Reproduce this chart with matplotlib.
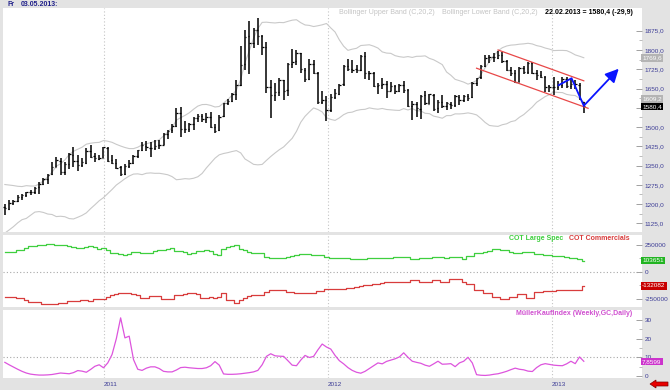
import numpy as np
import pandas as pd
import matplotlib
matplotlib.use("Agg")
import matplotlib.pyplot as plt
import matplotlib.dates as mdates
import matplotlib.transforms as mtransforms
from matplotlib.patches import Polygon

plt.rcParams['font.family'] = ['Liberation Sans', 'DejaVu Sans']

# weekly gold bars, 23.07.2010 .. 22.02.2013
weeks = pd.date_range('2010-07-23', '2013-02-22', freq='W-FRI')

opens = [1190,1182,1204,1214,1226,1237,1246,1249,1265,1279,
         1298,1316,1346,1369,1326,1356,1393,1367,1354,1362,
         1405,1386,1377,1381,1420,1370,1360,1343,1319,1347,
         1361,1387,1410,1428,1420,1417,1429,1430,1473,1487,
         1505,1555,1492,1493,1511,1535,1543,1531,1540,1501,
         1487,1542,1595,1602,1629,1664,1744,1853,1827,1877,
         1855,1810,1656,1625,1636,1682,1643,1745,1756,1787,
         1724,1687,1745,1711,1598,1605,1567,1618,1630,1666,
         1738,1726,1725,1722,1777,1709,1711,1660,1663,1667,
         1641,1659,1641,1663,1646,1581,1590,1572,1623,1591,
         1626,1573,1597,1581,1591,1585,1618,1606,1619,1616,
         1670,1693,1739,1771,1772,1770,1781,1757,1723,1712,
         1677,1730,1715,1750,1711,1704,1695,1658,1657,1655,
         1663,1688,1659,1668,1665,1596]
highs = [1200,1216,1216,1235,1241,1248,1254,1267,1286,1300,
         1319,1364,1384,1380,1364,1398,1424,1390,1378,1420,
         1432,1400,1393,1424,1424,1392,1376,1350,1356,1370,
         1392,1412,1440,1445,1440,1448,1448,1478,1490,1510,
         1575,1577,1525,1515,1540,1552,1550,1553,1560,1512,
         1545,1595,1610,1632,1682,1817,1877,1912,1886,1923,
         1860,1830,1682,1672,1690,1685,1750,1805,1800,1790,
         1730,1764,1762,1715,1640,1620,1628,1648,1668,1742,
         1765,1760,1740,1782,1792,1720,1714,1672,1690,1680,
         1675,1662,1668,1680,1650,1600,1596,1626,1640,1630,
         1628,1605,1625,1598,1596,1625,1625,1625,1630,1676,
         1692,1740,1780,1779,1788,1796,1792,1760,1732,1722,
         1735,1738,1755,1754,1722,1720,1698,1664,1693,1680,
         1695,1696,1686,1684,1670,1597]
lows = [1157,1177,1197,1209,1216,1229,1235,1241,1241,1274,
        1280,1312,1345,1312,1312,1338,1345,1330,1345,1358,
        1380,1365,1370,1378,1364,1355,1338,1308,1315,1340,
        1355,1378,1405,1405,1383,1410,1416,1430,1453,1475,
        1500,1462,1478,1480,1490,1520,1518,1517,1497,1478,
        1485,1540,1585,1598,1607,1660,1722,1705,1808,1820,
        1780,1632,1535,1600,1620,1605,1620,1730,1740,1710,
        1676,1682,1705,1590,1590,1523,1560,1608,1625,1660,
        1720,1712,1712,1718,1688,1683,1655,1627,1649,1612,
        1640,1627,1635,1633,1578,1527,1540,1532,1585,1588,
        1562,1555,1576,1565,1570,1578,1586,1597,1600,1612,
        1660,1688,1732,1750,1755,1763,1750,1718,1700,1672,
        1676,1708,1706,1705,1685,1689,1636,1638,1626,1645,
        1652,1652,1650,1650,1604,1554]
closes = [1183,1205,1213,1228,1236,1246,1247,1264,1280,1296,
          1315,1345,1370,1325,1357,1394,1368,1352,1363,1406,
          1385,1378,1380,1421,1369,1361,1342,1318,1348,1360,
          1388,1409,1429,1421,1418,1428,1429,1474,1486,1504,
          1556,1491,1492,1510,1536,1542,1530,1539,1500,1486,
          1541,1594,1601,1628,1663,1743,1852,1828,1876,1856,
          1811,1657,1624,1635,1683,1642,1746,1755,1788,1725,
          1686,1746,1712,1597,1606,1566,1617,1631,1665,1739,
          1725,1724,1723,1776,1710,1712,1659,1662,1668,1640,
          1660,1642,1664,1645,1580,1591,1573,1622,1592,1627,
          1572,1598,1580,1592,1584,1619,1605,1620,1615,1671,
          1692,1738,1770,1773,1771,1780,1758,1724,1711,1676,
          1731,1714,1751,1712,1703,1696,1657,1656,1656,1662,
          1687,1658,1667,1666,1610.3,1580.4]
# closes before the first visible bar (needed for the 20 week bands)
history_closes = [1102,1107,1107,1125,1161,1137,1142,1180,1209,1228,
                  1177,1213,1218,1228,1256,1256,1208,1210,1189]

# COT net positions, thousands of contracts
cot_large_spec = [185,185,185,201,201,220,238,240,247,247,
                  255,259,250,247,247,238,228,222,222,230,
                  238,225,210,216,205,175,170,160,155,160,
                  180,185,175,170,172,195,201,205,210,216,
                  196,196,180,165,170,190,196,198,190,165,
                  158,210,232,235,247,207,205,185,175,175,
                  172,140,127,127,127,130,139,142,155,160,
                  160,160,158,155,152,132,130,130,130,128,
                  126,122,120,118,122,125,128,130,128,126,
                  130,135,139,139,139,115,115,127,127,127,
                  139,139,133,127,135,139,139,115,143,150,
                  170,172,180,196,212,212,205,201,185,170,
                  172,185,185,178,165,165,158,155,150,143,
                  143,135,127,127,120,103.651]
cot_commercials = [-231,-231,-231,-246,-246,-260,-278,-278,-285,-299,
                   -299,-299,-295,-287,-287,-275,-268,-268,-265,-262,
                   -268,-255,-253,-250,-230,-216,-205,-194,-194,-200,
                   -210,-216,-246,-240,-225,-228,-225,-255,-255,-250,
                   -220,-216,-210,-200,-200,-210,-240,-240,-238,-246,
                   -235,-200,-262,-262,-287,-260,-246,-225,-216,-216,
                   -216,-185,-170,-170,-170,-170,-185,-185,-200,-200,
                   -200,-200,-200,-176,-176,-163,-163,-163,-163,-160,
                   -155,-150,-140,-130,-125,-120,-115,-110,-105,-100,
                   -98,-95,-93,-93,-93,-77,-77,-93,-93,-93,
                   -77,-77,-93,-93,-71,-71,-71,-93,-117,-117,
                   -170,-170,-200,-200,-231,-231,-255,-255,-231,-231,
                   -210,-210,-246,-246,-185,-185,-183,-183,-183,-170,
                   -170,-170,-168,-168,-168,-132.082]

mueller = [7.3,6.0,4.8,3.6,2.5,1.6,1.0,0.7,0.5,0.5,
           0.6,0.8,1.2,1.6,1.4,1.2,1.8,2.9,2.6,2.0,
           3.5,5.2,6.0,4.4,7.0,11.5,20.0,31.1,20.4,21.3,
           8.8,3.6,3.0,4.2,4.9,4.9,4.0,2.5,2.2,2.2,
           3.2,4.5,4.7,4.4,4.2,4.0,4.0,4.4,5.5,7.7,
           5.8,1.1,0.9,0.9,1.0,1.2,1.5,1.8,2.2,3.0,
           6.0,10.5,11.9,10.8,10.6,10.5,8.2,5.8,5.5,8.5,
           11.0,9.9,10.5,14.0,17.1,15.5,14.4,11.0,8.2,6.5,
           4.5,3.0,2.0,1.5,2.5,4.0,5.5,7.0,6.5,7.8,
           8.5,9.2,10.2,12.4,10.0,7.9,7.3,6.8,5.8,5.2,
           6.5,7.9,6.3,6.4,6.6,5.0,7.0,7.9,10.0,7.0,
           0.7,0.4,0.3,0.5,0.9,1.2,1.8,2.5,3.4,4.2,
           3.6,3.3,2.6,2.4,4.5,6.0,6.6,6.2,5.8,5.6,
           5.5,6.5,7.9,6.6,10.2,7.8599]

# drawn trend channel and forecast path
channel_upper_dates = ['2012-10-05', '2013-02-22']
channel_upper_prices = [1800, 1680]
channel_lower_dates = ['2012-08-31', '2013-03-01']
channel_lower_prices = [1729, 1573]
path_dates = ['2013-01-12', '2013-02-02', '2013-02-22', '2013-04-20']
path_prices = [1663, 1690, 1583, 1727]

year_dates = ['2011-01-01', '2012-01-01', '2013-01-01']
year_labels = ['2011', '2012', '2013']
price_ticks = [1125, 1200, 1275, 1350, 1425, 1500, 1575, 1650, 1725, 1800, 1875]
hidden_price_labels = [1575]   # covered by the last-price tag
cot_ticks = [-250000, 0, 250000]
mueller_ticks = [0, 10, 20, 30]
band_tags = [1769.6, 1609.2]

W, H = 670, 390
BG = '#e3e3e3'
NAVY = '#3c3c96'
LAB = 4.6


def px_box(x0, y0, x1, y1):
    return [x0 / W, 1 - y1 / H, (x1 - x0) / W, (y1 - y0) / H]


def px(x, y):
    return x / W, 1 - y / H


fig = plt.figure(figsize=(W / 100, H / 100), dpi=100, facecolor=BG)
ax = fig.add_axes(px_box(3, 8, 642, 232))
ax2 = fig.add_axes(px_box(3, 235, 642, 307), sharex=ax)
ax3 = fig.add_axes(px_box(3, 310, 642, 378), sharex=ax)

x = mdates.date2num(weeks)
years = mdates.date2num(pd.to_datetime(year_dates))

for a in (ax, ax2, ax3):
    a.set_facecolor('white')
    for s in a.spines.values():
        s.set_visible(False)
    for yd in years:
        a.axvline(yd, color='#c4c4c4', lw=0.8, ls=(0, (1, 2)), zorder=0)
    a.yaxis.tick_right()
    a.tick_params(axis='y', direction='in', length=4, width=0.7, color='#a0a0a0',
                  labelsize=LAB, labelcolor=NAVY, pad=2)
    a.tick_params(axis='y', which='minor', direction='in', length=2, width=0.6, color='#b0b0b0')
    a.tick_params(axis='x', length=0)

ax.set_xlim(mdates.date2num(pd.Timestamp('2010-07-20')), mdates.date2num(pd.Timestamp('2013-05-28')))

# --- price panel
hist = pd.Series(history_closes + closes, dtype=float)
mid = hist.rolling(20).mean()
sd = hist.rolling(20).std(ddof=0)
upper = (mid + 2 * sd).iloc[-len(closes):].values
lower = (mid - 2 * sd).iloc[-len(closes):].values
ax.plot(x, upper, color='#c9c9c9', lw=0.8, zorder=1)
ax.plot(x, lower, color='#c9c9c9', lw=0.8, zorder=1)

ax.vlines(x, lows, highs, color='black', lw=1.1, zorder=3)
ax.hlines(opens, x - 2.3, x, color='black', lw=0.9, zorder=3)
ax.hlines(closes, x, x + 2.3, color='black', lw=0.9, zorder=3)

ax.plot(mdates.date2num(pd.to_datetime(channel_upper_dates)), channel_upper_prices,
        color='#e84848', lw=0.9, zorder=4)
ax.plot(mdates.date2num(pd.to_datetime(channel_lower_dates)), channel_lower_prices,
        color='#e84848', lw=0.9, zorder=4)

pdx = mdates.date2num(pd.to_datetime(path_dates))
ax.plot(pdx[:3], path_prices[:3], color='#0a14ff', lw=1.3, zorder=5)
ax.annotate('', xy=(pdx[3], path_prices[3]), xytext=(pdx[2], path_prices[2]),
            arrowprops=dict(arrowstyle='-|>,head_length=0.8,head_width=0.4',
                            color='#0a14ff', lw=1.3, shrinkA=0, shrinkB=0), zorder=5)

ax.set_ylim(1091.5, 1963.4)
ax.set_yticks(price_ticks)
ax.set_yticks([v + 37.5 for v in price_ticks[:-1]], minor=True)
ax.set_yticklabels(['' if v in hidden_price_labels else f"{v:.1f}".replace('.', ',')
                    for v in price_ticks])
ax.tick_params(axis='x', labelbottom=False)

ytr = mtransforms.blended_transform_factory(ax.transAxes, ax.transData)
for v in band_tags:
    ax.text(1.0, v, f"{v:.1f}".replace('.', ','), transform=ytr, ha='left', va='center',
            fontsize=LAB, color='white', clip_on=False, zorder=6,
            bbox=dict(boxstyle='square,pad=0.2', fc='#b4b4b4', ec='none'))
last = closes[-1]
ax.text(1.0, last, f"{last:.1f}".replace('.', ','), transform=ytr, ha='left', va='center',
        fontsize=LAB, color='white', clip_on=False, zorder=7,
        bbox=dict(boxstyle='square,pad=0.2', fc='black', ec='none'))

# --- COT panel
ax2.step(x, np.array(cot_large_spec) * 1000, where='mid', color='#3fcf3f', lw=0.9)
ax2.step(x, np.array(cot_commercials) * 1000, where='mid', color='#d83c3c', lw=0.9)
ax2.axhline(0, color='#a8a8a8', lw=0.8, ls=(0, (1, 2)), zorder=0)
ax2.set_ylim(-327000, 340000)
ax2.set_yticks(cot_ticks)
ax2.set_yticks([-125000, 125000], minor=True)
ax2.set_yticklabels([str(v) for v in cot_ticks])
ax2.tick_params(axis='x', labelbottom=False)
ytr2 = mtransforms.blended_transform_factory(ax2.transAxes, ax2.transData)
ax2.text(1.0, cot_large_spec[-1] * 1000, str(int(round(cot_large_spec[-1] * 1000))), transform=ytr2,
         ha='left', va='center', fontsize=LAB, color='white', clip_on=False, zorder=6,
         bbox=dict(boxstyle='square,pad=0.2', fc='#22b422', ec='none'))
ax2.text(1.0, cot_commercials[-1] * 1000, str(int(round(cot_commercials[-1] * 1000))), transform=ytr2,
         ha='left', va='center', fontsize=LAB, color='white', clip_on=False, zorder=6,
         bbox=dict(boxstyle='square,pad=0.2', fc='#c80000', ec='none'))

# --- Mueller panel
ax3.plot(x, mueller, color='#dd55dd', lw=0.9)
ax3.axhline(10, color='#a8a8a8', lw=0.8, ls=(0, (1, 2)), zorder=0)
ax3.set_ylim(-1.07, 35.3)
ax3.set_yticks(mueller_ticks)
ax3.set_yticks([5, 15, 25], minor=True)
ax3.set_yticklabels([str(v) for v in mueller_ticks])
ytr3 = mtransforms.blended_transform_factory(ax3.transAxes, ax3.transData)
ax3.text(1.0, mueller[-1], f"{mueller[-1]:.4f}".replace('.', ','), transform=ytr3,
         ha='left', va='center', fontsize=LAB, color='white', clip_on=False, zorder=6,
         bbox=dict(boxstyle='square,pad=0.2', fc='#cc33cc', ec='none'))
ax3.set_xticks(years)
ax3.set_xticklabels(year_labels)
ax3.tick_params(axis='x', length=0, labelsize=LAB, labelcolor=NAVY, pad=3)
for t in ax3.get_xticklabels():
    t.set_ha('left')

# --- texts
fig.text(*px(8, 4.5), 'Fr', fontsize=5, color='#20208a', fontweight='bold', va='center')
fig.text(*px(21, 4.5), '03.05.2013:', fontsize=5, color='#20208a', fontweight='bold', va='center')
fig.text(*px(339, 12), 'Bollinger Upper Band (C,20,2)', fontsize=5.1, color='#c4c4c4', va='center')
fig.text(*px(442, 12), 'Bollinger Lower Band (C,20,2)', fontsize=5.1, color='#c4c4c4', va='center')
fig.text(*px(545, 12), '22.02.2013 = 1580,4 (-29,9)', fontsize=5.0, color='black',
         fontweight='bold', va='center')
fig.text(*px(509, 238.5), 'COT Large Spec', fontsize=5.0, color='#3fcf3f', fontweight='bold', va='center')
fig.text(*px(569, 238.5), 'COT Commercials', fontsize=5.0, color='#d83c3c', fontweight='bold', va='center')
fig.text(*px(516, 313.5), 'MüllerKaufIndex (Weekly,GC,Daily)', fontsize=5.0, color='#d050d0',
         fontweight='bold', va='center')

# red navigation arrow, bottom right
arrow = [px(650, 384), px(656, 380), px(656, 382), px(668, 382),
         px(668, 386), px(656, 386), px(656, 388)]
fig.patches.append(Polygon(arrow, closed=True, transform=fig.transFigure,
                           fc='#e80000', ec='#800000', lw=0.5))

fig.savefig('out.png', dpi=100, facecolor=BG)
